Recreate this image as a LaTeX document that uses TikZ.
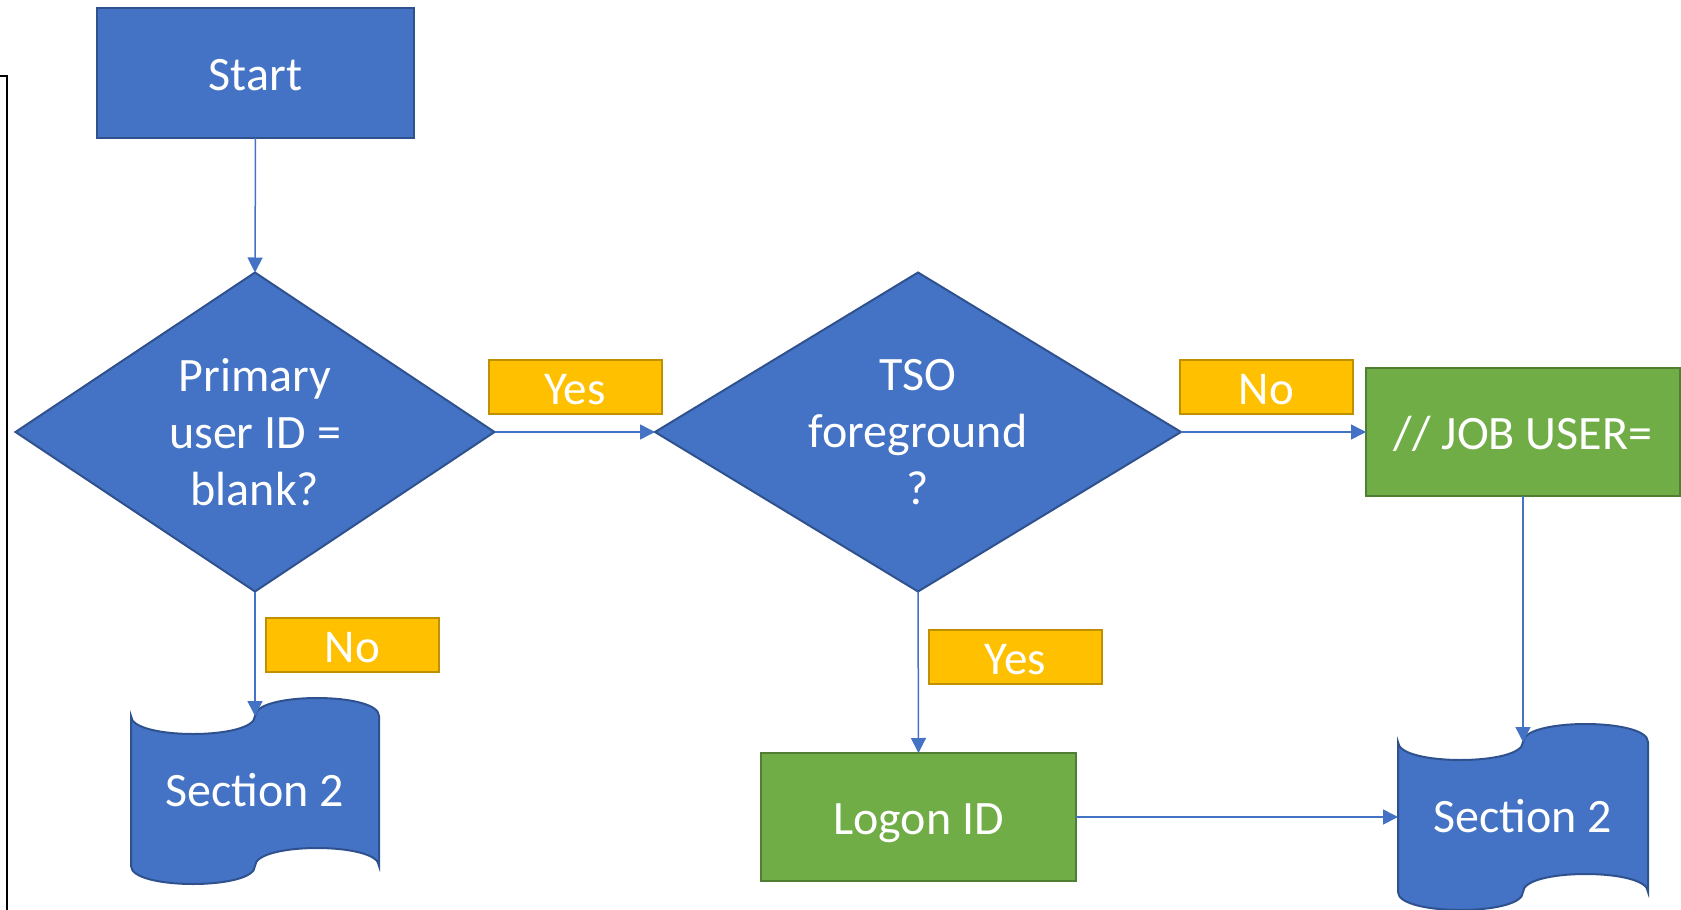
\documentclass[tikz,border=0pt]{standalone}
\usepackage{fontspec}
\setmainfont{Carlito}
\usetikzlibrary{shapes.geometric,arrows.meta}
\definecolor{flowblue}{HTML}{4472C4}
\definecolor{flowblueedge}{HTML}{2F528F}
\definecolor{flowgreen}{HTML}{70AD47}
\definecolor{flowgreenedge}{HTML}{507E32}
\definecolor{flowyellow}{HTML}{FFC000}
\definecolor{flowyellowedge}{HTML}{BF9000}

% punched-tape outline: left, right, top, bottom
\newcommand\tapeoutline[4]{%
  \filldraw[tapefill]
    (#1,#3) .. controls (#1,{#3+24}) and ({(#1+#2)/2},{#3+24}) .. ({(#1+#2)/2},#3)
            .. controls ({(#1+#2)/2},{#3-24}) and (#2,{#3-24}) .. (#2,#3)
    -- (#2,#4)
            .. controls (#2,{#4-24}) and ({(#1+#2)/2},{#4-24}) .. ({(#1+#2)/2},#4)
            .. controls ({(#1+#2)/2},{#4+24}) and (#1,{#4+24}) .. (#1,#4)
    -- cycle;}

\begin{document}
\begin{tikzpicture}[x=1pt,y=-1pt,
  txt/.style={text=white,font=\fontsize{48}{57}\selectfont,inner sep=0pt,outer sep=0pt},
  oneline/.style={text height=35pt,text depth=0pt},
  process/.style={txt,oneline,rectangle,fill=flowblue,draw=flowblueedge,line width=2pt},
  greenbox/.style={txt,oneline,rectangle,fill=flowgreen,draw=flowgreenedge,line width=2pt},
  decision/.style={txt,align=center,diamond,fill=flowblue,draw=flowblueedge,line width=2pt},
  tapefill/.style={fill=flowblue,draw=flowblueedge,line width=2pt},
  tapebox/.style={txt,rectangle,draw=none,text height=31pt,text depth=0pt},
  answer/.style={txt,oneline,rectangle,fill=flowyellow,draw=flowyellowedge,line width=2pt,
    minimum width=173pt,minimum height=54pt,font=\fontsize{47}{56}\selectfont},
  flow/.style={draw=flowblue,line width=1.5pt,-{Triangle[length=15pt,width=15pt]}}
]
\useasboundingbox (0,0) rectangle (1681,910);

% frame edge on the left
\draw[line width=2pt] (0,76) -- (7,76) -- (7,912);

% off-page connectors (punched tape)
\tapeoutline{131}{379}{716}{866}
\tapeoutline{1398}{1648}{742}{892}
\node[tapebox,minimum width=248pt,minimum height=150pt] (sec1) at (255,791) {Section 2};
\node[tapebox,minimum width=250pt,minimum height=150pt] (sec2) at (1523,817) {Section 2};

% main shapes
\node[process,minimum width=317pt,minimum height=130pt] (start) at (255.5,73) {Start};
\node[decision,aspect=1.5,minimum width=479pt,minimum height=319pt] (d1) at (255,432) {Primary\\user ID =\\blank?};
\node[decision,aspect=1.65,minimum width=526pt,minimum height=319pt] (d2) at (918,432) {TSO\\foreground\\?};
\node[greenbox,minimum width=314pt,minimum height=128pt] (job) at (1523,432) {// JOB USER=};
\node[greenbox,minimum width=315pt,minimum height=128pt] (logon) at (918.5,817) {Logon ID};

% answer labels
\node[answer] (yes1) at (575,387) {Yes};
\node[answer] (no1) at (1266.5,387) {No};
\node[answer] (no2) at (352.5,644.5) {No};
\node[answer] (yes2) at (1015.5,657) {Yes};

% connectors
\draw[flow] (start.south) -- (d1.north);
\draw[flow] (d1.east) -- (d2.west);
\draw[flow] (d2.east) -- (job.west);
\draw[flow] (d1.south) -- (sec1.north);
\draw[flow] (d2.south) -- (logon.north);
\draw[flow] (job.south) -- (sec2.north);
\draw[flow] (logon.east) -- (sec2.west);
\end{tikzpicture}
\end{document}
